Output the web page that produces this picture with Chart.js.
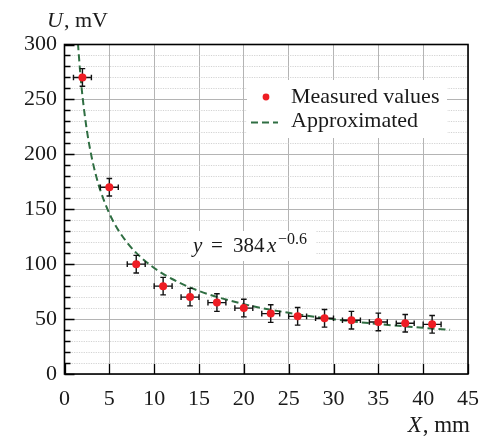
<!DOCTYPE html>
<html>
<head>
<meta charset="utf-8">
<script src="https://cdn.jsdelivr.net/npm/chart.js@4.4.0/dist/chart.umd.min.js"></script>
<style>
    html, body { margin: 0; padding: 0; background: #fff; }
    #wrap { width: 491px; height: 438px; position: relative; }
</style>
</head>
<body>
<div id="wrap"><canvas id="chart" width="491" height="438"></canvas></div>
<script>
// Measured points (X in mm, U in mV) and their error bars
const xValues = [2, 5, 8, 11, 14, 17, 20, 23, 26, 29, 32, 35, 38, 41];
const uValues = [270, 170, 100, 80, 70, 65, 60, 55, 52.5, 50.7, 49, 47.4, 46.2, 45.2];
const xErrors = [1, 1, 1, 1, 1, 1, 1, 1, 1, 1, 1, 1, 1, 1];
const uErrors = [8, 8, 8, 8, 8, 8, 8, 8, 8, 8, 8, 8, 8, 8];

// Approximation curve y = 384 x^-0.6
const fitX = [1.5, 1.75, 2, 2.5, 3, 3.5, 4, 5, 6, 7, 8, 10, 12, 15, 20, 25, 30, 35, 40, 43];
const fitU = [301.1, 274.5, 253.3, 221.6, 198.6, 181.1, 167.1, 146.2, 131.0, 119.5, 110.3, 96.5, 86.5, 75.6, 63.6, 55.7, 49.9, 45.5, 42.0, 40.2];

// Axis ticks
const xTicks = [0, 5, 10, 15, 20, 25, 30, 35, 40, 45];
const uTicks = [0, 50, 100, 150, 200, 250, 300];
const uMinorStep = 10;

const SERIF = "'Liberation Serif', 'DejaVu Serif', serif";
const TEXT = '#1a1a1a';
const RED = '#ee1d24';
const GREEN = '#2f6e42';

const decor = {
    id: 'decor',
    beforeDatasetsDraw(chart) {
        const { ctx, chartArea: a, scales: { y } } = chart;
        ctx.save();
        // minor dotted gridlines
        ctx.strokeStyle = '#c8c8c8';
        ctx.lineWidth = 0.8;
        ctx.setLineDash([1.2, 1.2]);
        for (let v = uTicks[0]; v < uTicks[uTicks.length - 1]; v += uMinorStep) {
            if (uTicks.includes(v)) continue;
            const py = Math.round(y.getPixelForValue(v)) + 0.5;
            ctx.beginPath();
            ctx.moveTo(a.left, py);
            ctx.lineTo(a.right, py);
            ctx.stroke();
        }
        ctx.restore();
    },
    beforeDatasetDraw(chart, args) {
        if (args.index !== 0) return;
        const { ctx, scales: { x, y } } = chart;
        ctx.save();
        ctx.strokeStyle = '#111';
        ctx.lineWidth = 1.4;
        const cap = 2.8;
        xValues.forEach((xv, i) => {
            const px = x.getPixelForValue(xv);
            const py = y.getPixelForValue(uValues[i]);
            const x0 = x.getPixelForValue(xv - xErrors[i]);
            const x1 = x.getPixelForValue(xv + xErrors[i]);
            const y0 = y.getPixelForValue(uValues[i] - uErrors[i]);
            const y1 = y.getPixelForValue(uValues[i] + uErrors[i]);
            ctx.beginPath();
            ctx.moveTo(x0, py); ctx.lineTo(x1, py);
            ctx.moveTo(px, y0); ctx.lineTo(px, y1);
            // caps
            ctx.moveTo(x0, py - cap); ctx.lineTo(x0, py + cap);
            ctx.moveTo(x1, py - cap); ctx.lineTo(x1, py + cap);
            ctx.moveTo(px - cap, y0); ctx.lineTo(px + cap, y0);
            ctx.moveTo(px - cap, y1); ctx.lineTo(px + cap, y1);
            ctx.stroke();
        });
        ctx.restore();
    },
    afterDraw(chart) {
        const { ctx, chartArea: a, scales: { x, y } } = chart;
        ctx.save();

        // frame
        ctx.strokeStyle = '#000';
        ctx.lineWidth = 1.6;
        ctx.strokeRect(a.left, a.top, a.right - a.left, a.bottom - a.top);

        // inward ticks
        ctx.lineWidth = 1.3;
        ctx.beginPath();
        xTicks.forEach(v => {
            const px = Math.round(x.getPixelForValue(v)) + 0.5;
            ctx.moveTo(px, a.bottom); ctx.lineTo(px, a.bottom - 10);
        });
        for (let v = uTicks[0]; v <= uTicks[uTicks.length - 1]; v += uMinorStep) {
            const py = Math.round(y.getPixelForValue(v)) + 0.5;
            const len = uTicks.includes(v) ? 10 : 6;
            ctx.moveTo(a.left, py); ctx.lineTo(a.left + len, py);
        }
        ctx.stroke();

        // annotation box with formula
        ctx.fillStyle = '#fff';
        ctx.fillRect(188, 231, 128, 30);
        ctx.fillStyle = TEXT;
        ctx.textBaseline = 'alphabetic';
        ctx.textAlign = 'left';
        ctx.font = 'italic 21px ' + SERIF;
        ctx.fillText('y', 193, 252);
        ctx.font = '21px ' + SERIF;
        ctx.fillText('=', 211, 252);
        ctx.fillText('384', 233, 252);
        ctx.font = 'italic 21px ' + SERIF;
        ctx.fillText('x', 267, 252);
        ctx.font = '16px ' + SERIF;
        ctx.fillText('\u22120.6', 278, 244);

        // legend
        ctx.fillStyle = '#fff';
        ctx.fillRect(247, 80, 200, 58);
        ctx.fillStyle = RED;
        ctx.beginPath();
        ctx.arc(266, 97, 3.4, 0, Math.PI * 2);
        ctx.fill();
        ctx.strokeStyle = GREEN;
        ctx.lineWidth = 2;
        ctx.setLineDash([7, 4]);
        ctx.beginPath();
        ctx.moveTo(251, 122.5); ctx.lineTo(278, 122.5);
        ctx.stroke();
        ctx.setLineDash([]);
        ctx.fillStyle = TEXT;
        ctx.font = '22px ' + SERIF;
        ctx.fillText('Measured values', 291, 103);
        ctx.fillText('Approximated', 291, 127);

        // axis labels
        ctx.font = 'italic 22px ' + SERIF;
        ctx.fillText('U', 47, 27);
        let w = ctx.measureText('U').width;
        ctx.font = '22px ' + SERIF;
        ctx.fillText(', mV', 47 + w + 1, 27);

        ctx.textAlign = 'right';
        ctx.font = '23px ' + SERIF;
        const tail = ', mm';
        ctx.fillText(tail, 470, 432);
        w = ctx.measureText(tail).width;
        ctx.font = 'italic 23px ' + SERIF;
        ctx.fillText('X', 470 - w - 1, 432);

        ctx.restore();
    }
};

new Chart(document.getElementById('chart'), {
    type: 'scatter',
    data: {
        datasets: [
            {
                label: 'Measured values',
                data: xValues.map((v, i) => ({ x: v, y: uValues[i] })),
                backgroundColor: RED,
                borderWidth: 0,
                pointRadius: 4,
                showLine: false
            },
            {
                label: 'Approximated',
                data: fitX.map((v, i) => ({ x: v, y: fitU[i] })),
                borderColor: GREEN,
                borderWidth: 2,
                borderDash: [7, 4],
                pointRadius: 0,
                showLine: true,
                cubicInterpolationMode: 'monotone'
            }
        ]
    },
    options: {
        responsive: false,
        animation: false,
        layout: { padding: { left: 0, right: 20.5, top: 44.5, bottom: 0 } },
        plugins: { legend: { display: false }, tooltip: { enabled: false } },
        scales: {
            x: {
                type: 'linear',
                min: xTicks[0],
                max: xTicks[xTicks.length - 1],
                afterFit: s => { s.height = 64; },
                afterBuildTicks: s => { s.ticks = xTicks.map(v => ({ value: v })); },
                grid: { color: '#b4b4b4', lineWidth: 1, drawTicks: false },
                border: { display: false },
                ticks: {
                    color: TEXT,
                    padding: 12,
                    maxRotation: 0,
                    autoSkip: false,
                    font: { family: SERIF, size: 22 }
                }
            },
            y: {
                type: 'linear',
                min: uTicks[0],
                max: uTicks[uTicks.length - 1],
                afterFit: s => { s.width = 64.5; },
                afterBuildTicks: s => { s.ticks = uTicks.map(v => ({ value: v })); },
                grid: { color: '#b4b4b4', lineWidth: 1, drawTicks: false },
                border: { display: false },
                ticks: {
                    color: TEXT,
                    padding: 7.5,
                    autoSkip: false,
                    font: { family: SERIF, size: 22 }
                }
            }
        }
    },
    plugins: [decor]
});
</script>
</body>
</html>
